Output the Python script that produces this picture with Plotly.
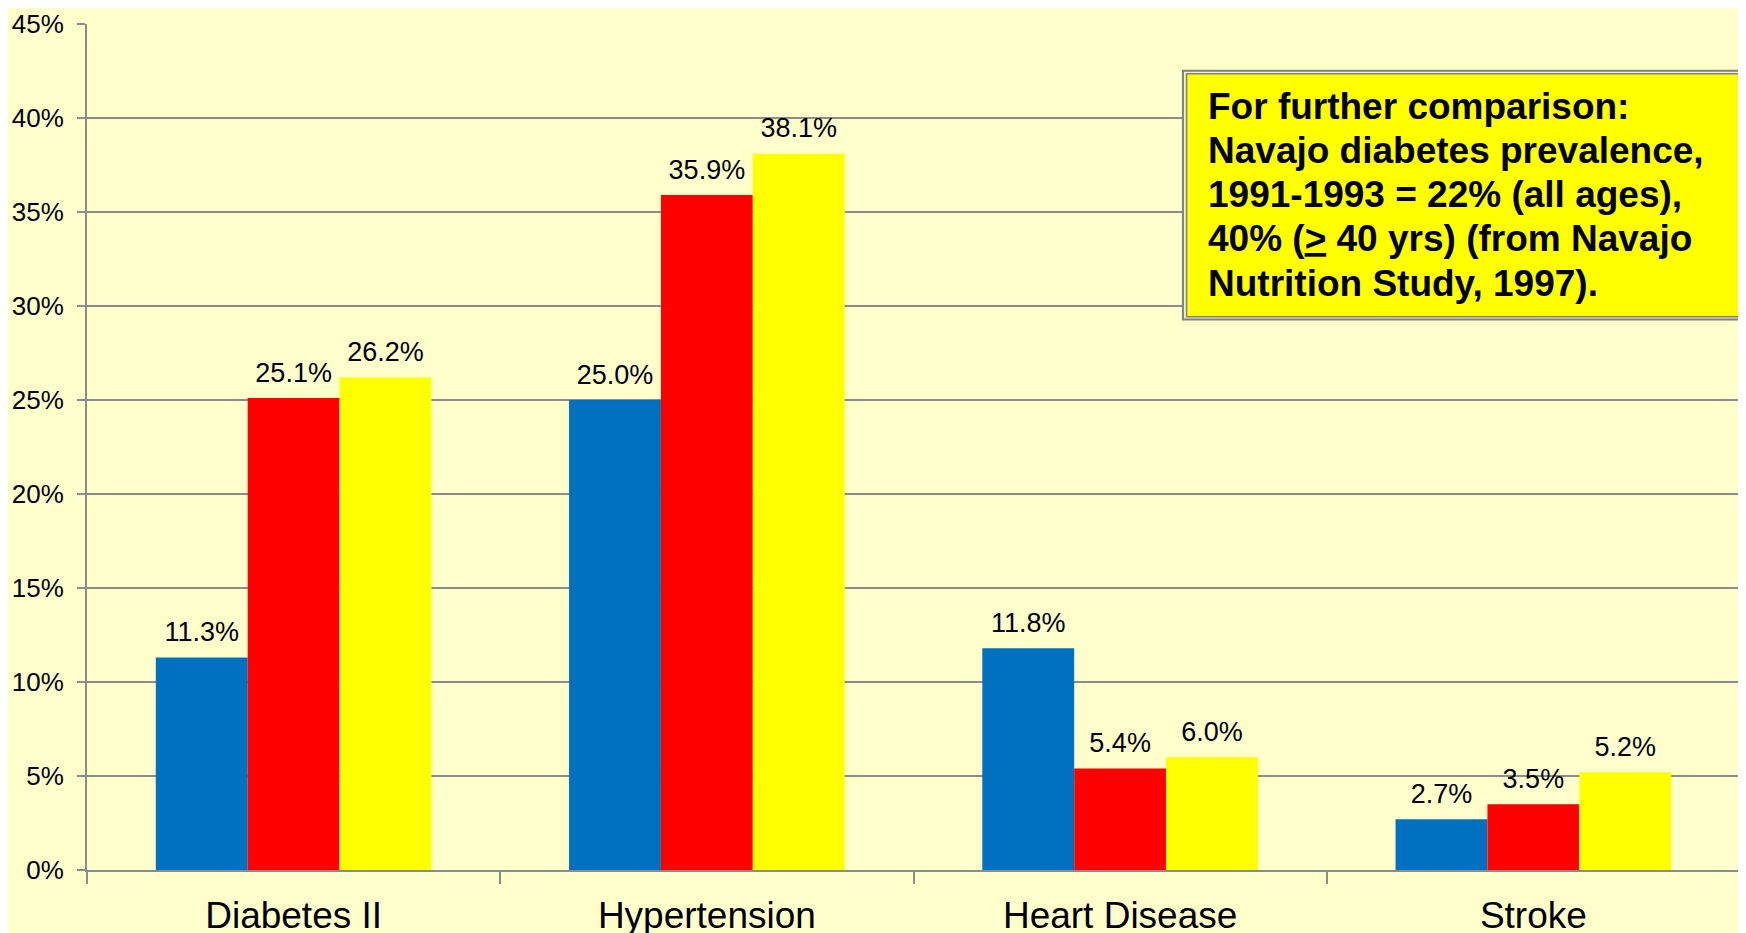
# -*- coding: utf-8 -*-
"""
Prevalence bar chart
"""
import plotly.graph_objects as go

# %% Data
categories = ["Diabetes II", "Hypertension", "Heart Disease", "Stroke"]
series_a = [0.113, 0.250, 0.118, 0.027]
series_b = [0.251, 0.359, 0.054, 0.035]
series_c = [0.262, 0.381, 0.060, 0.052]
series_names = ["Series 1", "Series 2", "Series 3"]
bar_colors = ["#0070C0", "#FF0000", "#FFFF00"]

note_lines = [
    "<b>For further comparison:</b>",
    "<b>Navajo diabetes prevalence,</b>",
    "<b>1991-1993 = 22% (all ages),</b>",
    "<b>40% (<u>&gt;</u> 40 yrs) (from Navajo</b>",
    "<b>Nutrition Study, 1997).</b>",
]

FONT = "Liberation Sans, Arial, sans-serif"
BG = "#FFFFCC"
GRID = "#8C8C8C"

# %% Figure
fig = go.Figure()
for name, vals, col in zip(series_names, [series_a, series_b, series_c], bar_colors):
    fig.add_trace(go.Bar(x=categories, y=vals, name=name, offsetgroup=name,
                         marker=dict(color=col, line=dict(width=0))))
# value labels, grouped like the bars, lifted a bit off the bar tops
for name, vals in zip(series_names, [series_a, series_b, series_c]):
    fig.add_trace(go.Scatter(x=categories, y=vals, offsetgroup=name,
                             mode="markers+text", text=[f"{v:.1%}" for v in vals],
                             textposition="top center",
                             marker=dict(size=14, opacity=0),
                             textfont=dict(size=27, color="black", family=FONT),
                             cliponaxis=False, hoverinfo="skip"))

fig.update_layout(
    width=1746, height=933,
    margin=dict(l=79, r=14, t=16, b=71),
    paper_bgcolor=BG, plot_bgcolor=BG,
    barmode="group", bargap=0.333, bargroupgap=0,
    scattermode="group", scattergap=0.333,
    showlegend=False,
    font=dict(family=FONT, color="black"),
)
fig.update_yaxes(range=[0, 0.45], dtick=0.05, tickformat=".0%",
                 tickfont=dict(size=26), showgrid=True, gridcolor=GRID,
                 gridwidth=2, showline=True, linecolor=GRID, linewidth=2,
                 ticks="outside", ticklen=8, tickcolor=GRID, tickwidth=2,
                 ticklabelstandoff=8, ticklabeloverflow="allow",
                 zeroline=False, automargin=False)
fig.update_xaxes(tickfont=dict(size=37), showline=True, linecolor=GRID,
                 linewidth=2, ticks="outside", ticklen=12, tickcolor=GRID,
                 tickwidth=2, tickson="boundaries", ticklabelstandoff=12,
                 automargin=False)

# %% Note box
fig.add_shape(type="rect", xref="paper", yref="paper",
              x0=0.663, x1=1.02, y0=0.6506, y1=0.9447,
              line=dict(color="#808080", width=2), fillcolor="#F4F4C0")
fig.add_shape(type="rect", xref="paper", yref="paper",
              x0=0.6652, x1=1.02, y0=0.6541, y1=0.9412,
              line=dict(color="#808080", width=1.5), fillcolor="#FFFF00")
note_y = [0.903, 0.8506, 0.7982, 0.7459, 0.6934]
for txt, yy in zip(note_lines, note_y):
    fig.add_annotation(text=txt, xref="paper", yref="paper", x=0.6768, y=yy,
                       xanchor="left", yanchor="middle", showarrow=False,
                       font=dict(size=37, color="black", family=FONT))

fig.write_html("out.html")
